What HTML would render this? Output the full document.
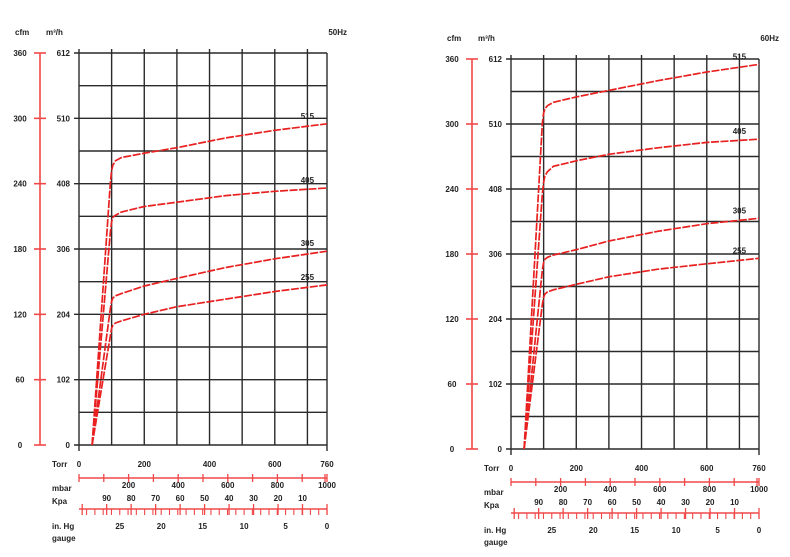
<!DOCTYPE html>
<html><head><meta charset="utf-8"><style>
body{margin:0;background:#fff;width:790px;height:557px;overflow:hidden}
svg{display:block;font-family:"Liberation Sans",sans-serif;font-weight:bold}
</style></head><body>
<svg id="c" width="790" height="557" viewBox="0 0 790 557"></svg>
<script>
const cfmTicks=[0,60,120,180,240,300,360];
const m3hTicks=[0,102,204,306,408,510,612];
const torrTicks=[0,200,400,600,760];
const mbarLabels=[200,400,600,800,1000];
const kpaLabels=[90,80,70,60,50,40,30,20,10];
const inhgLabels=[25,20,15,10,5,0];
const seriesNames=["515","405","305","255"];
// 50Hz
const torr50=[40,96,100,104,112,130,200,300,450,600,760];
const s50_515=[0,240,252,257,261,264,268,273,282,289,295];
const s50_405=[0,195,205,209,211,214,219,223,229,233,236];
const s50_305=[0,125,132,135,137,139,146,153,163,171,178];
const s50_255=[0,100,107,110,112,114,120,127,134,141,147];
// 60Hz
const torr60=[40,96,100,104,112,130,200,300,450,600,760];
const s60_515=[0,300,310,314,317,320,325,331,340,348,355];
const s60_405=[0,235,246,252,256,261,266,272,278,283,286];
const s60_305=[0,165,172,175,177,179,184,192,201,208,213];
const s60_255=[0,133,140,143,145,147,152,159,166,171,176];

const svg=document.getElementById('c');
const NS='http://www.w3.org/2000/svg';
function mk(tag,attrs,parent,text){const e=document.createElementNS(NS,tag);for(const k in attrs)e.setAttribute(k,attrs[k]);if(text!==undefined)e.textContent=text;(parent||svg).appendChild(e);return e;}

function chart(cfg){
  const g=mk('g',{});
  
  
  const X0=cfg.x0,X1=cfg.x1,Y0=cfg.yTop,Y1=cfg.yBot;
  const xs=t=>X0+(X1-X0)*t/760;
  const ys=v=>Y1-(Y1-Y0)*v/360;
  for(let t=0;t<=700;t+=100){const l=mk('line',{x1:xs(t),x2:xs(t),y1:Y0-4,y2:Y1+(t===0?6:0),stroke:'#2a2a2a','stroke-width':1.4},g);}
  mk('line',{x1:X1,x2:X1,y1:Y0,y2:Y1+6,stroke:'#2a2a2a','stroke-width':1.4},g);
  for(let v=0;v<=360;v+=30){const l=mk('line',{x1:X0-(v%60===0?5:0),x2:X1,y1:ys(v),y2:ys(v),stroke:'#2a2a2a','stroke-width':1.4},g);}
  const ax=X0-39;
  mk('line',{x1:ax,x2:ax,y1:Y0,y2:Y1,stroke:'#f04848','stroke-width':1.6},g);
  cfmTicks.forEach((v,i)=>{
    mk('line',{x1:ax-6,x2:ax+6,y1:ys(v),y2:ys(v),stroke:'#f04848','stroke-width':1.6},g);
    const t1=mk('text',{x:ax-20,y:ys(v)+3,'font-size':8,'text-anchor':'middle',fill:'#222'},g,v);
    
    const t2=mk('text',{x:X0-9,y:ys(m3hTicks[i]/1.7)+3,'font-size':8,'text-anchor':'end',fill:'#222'},g,m3hTicks[i]);
    
  });
  const u1=mk('text',{x:ax-25,y:Y0-18,'font-size':8,fill:'#222'},g,'cfm');
  const u2=mk('text',{x:X0-33,y:Y0-18,'font-size':8,fill:'#222'},g,'m³/h');
  const hz=mk('text',{x:X1+20,y:Y0-18,'font-size':8,'text-anchor':'end',fill:'#222'},g,cfg.hz);
  cfg.series.forEach((s,i)=>{
    const d=cfg.torr.map((t,j)=>(j?'L':'M')+xs(t).toFixed(1)+','+ys(s[j]).toFixed(1)).join(' ');
    const p=mk('path',{d:d,fill:'none',stroke:'#e82020','stroke-width':1.7,'stroke-dasharray':'8 1.5'},g);
    
    const last=s[s.length-1];
    const lb=mk('text',{x:xs(700),y:ys(last)-5,'font-size':8,'text-anchor':'middle',fill:'#222'},g,seriesNames[i]);
    
  });
  const b=Y1+22;
  const tl=mk('text',{x:X0-27,y:b,'font-size':8,fill:'#222'},g,'Torr');
  torrTicks.forEach(t=>{const e=mk('text',{x:xs(t),y:b,'font-size':8,'text-anchor':'middle',fill:'#222'},g,t);});
  const mb=v=>X0+(X1-X0)*v/1000;
  const ly=b+11;
  mk('line',{x1:X0,x2:X1,y1:ly,y2:ly,stroke:'#f04848','stroke-width':1.6},g);
  for(let v=0;v<=1000;v+=100)mk('line',{x1:mb(v),x2:mb(v),y1:ly-4,y2:ly+4,stroke:'#f04848','stroke-width':1.3},g);
  mk('line',{x1:X1-2,x2:X1-2,y1:ly-4,y2:ly+4,stroke:'#f04848','stroke-width':1.3},g);
  const ml=mk('text',{x:X0-27,y:ly+13,'font-size':8,fill:'#222'},g,'mbar');
  mbarLabels.forEach(v=>{const e=mk('text',{x:mb(v),y:ly+10,'font-size':8,'text-anchor':'middle',fill:'#222'},g,v);});
  const kp=v=>X1-(X1-X0)*v/101.3;
  const kl=mk('text',{x:X0-27,y:ly+26,'font-size':8,fill:'#222'},g,'Kpa');
  kpaLabels.forEach(v=>{const e=mk('text',{x:kp(v),y:ly+23,'font-size':8,'text-anchor':'middle',fill:'#222'},g,v);});
  const l2=ly+36;
  mk('line',{x1:X0,x2:X1,y1:l2-5,y2:l2-5,stroke:'#f04848','stroke-width':1.6},g);
  for(let v=0;v<=100;v+=10)mk('line',{x1:kp(v),x2:kp(v),y1:l2-10,y2:l2+1,stroke:'#f04848','stroke-width':1.3},g);
  for(let v=0;v<=100;v+=3.386)mk('line',{x1:kp(v),x2:kp(v),y1:l2-5,y2:l2+1,stroke:'#f04848','stroke-width':1.1},g);
  const ih=v=>X1-(X1-X0)*v/29.92;
  const il=mk('text',{x:X0-27,y:l2+15,'font-size':8,fill:'#222'},g,'in. Hg');
  const gl=mk('text',{x:X0-27,y:l2+27,'font-size':8,fill:'#222'},g,'gauge');
  inhgLabels.forEach(v=>{const e=mk('text',{x:ih(v),y:l2+15,'font-size':8,'text-anchor':'middle',fill:'#222'},g,v);});
}
chart({hz:'50Hz',x0:79,x1:327,yTop:53,yBot:445,torr:torr50,series:[s50_515,s50_405,s50_305,s50_255]});
chart({hz:'60Hz',x0:511,x1:759,yTop:59,yBot:449,torr:torr60,series:[s60_515,s60_405,s60_305,s60_255]});
</script>
</body></html>
